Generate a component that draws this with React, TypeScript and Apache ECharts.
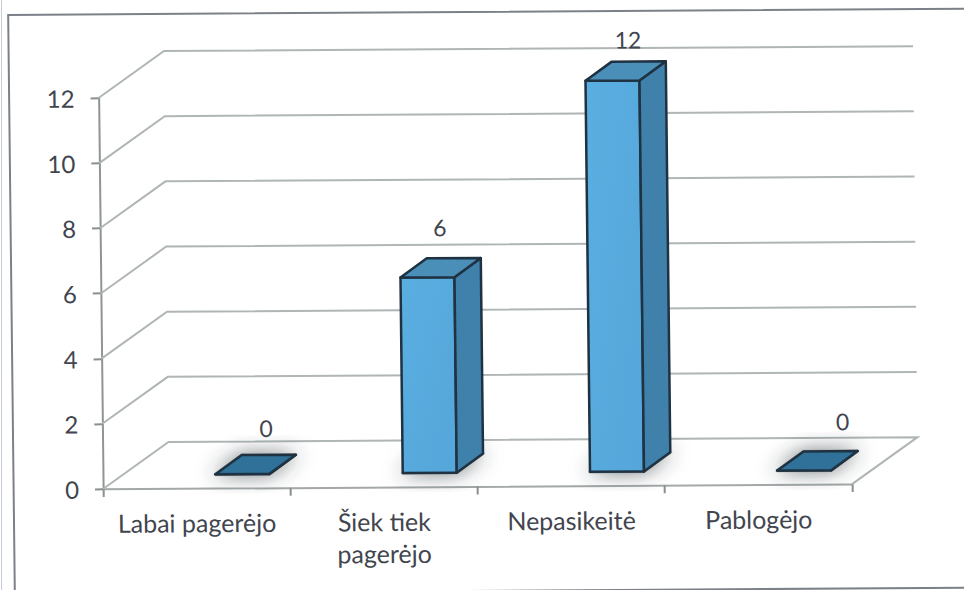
import React, { useEffect, useRef } from "react";
import * as echarts from "echarts";

const categories = ["Labai pagerėjo", "Šiek tiek\npagerėjo", "Nepasikeitė", "Pablogėjo"];
const values = [0, 6, 12, 0];
const yTicks = [2, 4, 6, 8, 10, 12];

const FONT = "Lato";
const TEXT = "#41454e";
const WALL = "#b0b5b5";
const WALL_DX = 66;
const WALL_DY = -46.5;
const BAR_SHIFT_X = 46;
const BAR_SHIFT_Y = -14;
const BAR_W = 54;
const DEPTH_X = 26.5;
const DEPTH_Y = -19;
const LABEL_OFFSETS = [[70, -60], [59, -64], [62, -55], [85, -63]];

function renderWall(params: any, api: any) {
  const cs = params.coordSys;
  const y = api.coord([0, api.value(0)])[1];
  return {
    type: "polyline",
    silent: true,
    shape: {
      points: [
        [cs.x, y],
        [cs.x + WALL_DX, y + WALL_DY],
        [cs.x + cs.width + WALL_DX, y + WALL_DY],
      ],
    },
    style: { fill: "none", stroke: WALL, lineWidth: 2 },
  };
}

function renderFloor(params: any, api: any) {
  const cs = params.coordSys;
  const y = api.coord([0, 0])[1];
  return {
    type: "polyline",
    silent: true,
    shape: {
      points: [
        [cs.x, y],
        [cs.x + WALL_DX, y + WALL_DY],
        [cs.x + cs.width + WALL_DX, y + WALL_DY],
        [cs.x + cs.width, y],
      ],
    },
    style: { fill: "none", stroke: WALL, lineWidth: 2 },
  };
}

function renderBar(params: any, api: any) {
  const i = api.value(0);
  const v = api.value(1);
  const top = api.coord([i, v]);
  const base = api.coord([i, 0]);
  const xl = top[0] + BAR_SHIFT_X - BAR_W / 2;
  const xr = xl + BAR_W;
  const yt = top[1] + BAR_SHIFT_Y;
  const yb = base[1] + BAR_SHIFT_Y;
  const stroke = "#1f3242";
  const poly = (points: number[][], fill: any, extra: any = {}) => ({
    type: "polygon",
    silent: true,
    shape: { points },
    style: { fill, stroke, lineWidth: 2.5, lineJoin: "round", ...extra },
  });
  const offset = LABEL_OFFSETS[params.dataIndex];
  return {
    type: "group",
    silent: true,
    children: [
      poly(
        [[xl, yb], [xr, yb], [xr + DEPTH_X, yb + DEPTH_Y], [xl + DEPTH_X, yb + DEPTH_Y]],
        "#8a8f92",
        { stroke: "#8a8f92", lineWidth: 3, shadowBlur: 20, shadowColor: "rgba(50,55,60,0.65)" }
      ),
      poly([[xl, yt], [xr, yt], [xr, yb], [xl, yb]], new echarts.graphic.LinearGradient(0, 0, 1, 1, [
        { offset: 0, color: "#5aaee0" },
        { offset: 1, color: "#55a6da" },
      ])),
      poly([[xr, yt], [xr + DEPTH_X, yt + DEPTH_Y], [xr + DEPTH_X, yb + DEPTH_Y], [xr, yb]], "#4081ac"),
      poly(
        [[xl, yt], [xr, yt], [xr + DEPTH_X, yt + DEPTH_Y], [xl + DEPTH_X, yt + DEPTH_Y]],
        v === 0 ? "#2f7199" : "#4a8fb8"
      ),
      {
        type: "text",
        silent: true,
        style: {
          text: String(v),
          x: top[0] + offset[0],
          y: top[1] + offset[1],
          textAlign: "center",
          textVerticalAlign: "middle",
          fill: TEXT,
          font: `23px ${FONT}`,
        },
      },
    ],
  };
}

export default function App() {
  const ref = useRef<HTMLDivElement>(null);
  useEffect(() => {
    const chart = echarts.init(ref.current!, null, { renderer: "svg" });
    chart.setOption({
      animation: false,
      backgroundColor: "#ffffff",
      textStyle: { fontFamily: FONT },
      grid: { left: 97.4, top: 98.6, width: 749, height: 391, containLabel: false },
      graphic: [
        {
          type: "rect",
          silent: true,
          z: -1,
          shape: { x: 8, y: 15, width: 1100, height: 579 },
          style: { fill: "none", stroke: "#7c8088", lineWidth: 2 },
        },
      ],
      xAxis: {
        type: "category",
        data: categories,
        boundaryGap: true,
        splitLine: { show: false },
        axisLine: { show: true, lineStyle: { color: "#a4a8a8", width: 2 } },
        axisTick: { show: true, length: 8, lineStyle: { color: "#8a8f90", width: 2 } },
        axisLabel: {
          color: TEXT,
          fontFamily: FONT,
          fontSize: 25,
          lineHeight: 32,
          margin: 18,
          interval: 0,
        },
      },
      yAxis: {
        type: "value",
        min: 0,
        max: 12,
        interval: 2,
        splitLine: { show: false },
        axisLine: { show: true, lineStyle: { color: "#8f9495", width: 2 } },
        axisTick: { show: true, length: 8, lineStyle: { color: "#8a8f90", width: 2 } },
        axisLabel: { color: TEXT, fontFamily: FONT, fontSize: 24, margin: 24 },
      },
      series: [
        {
          type: "custom",
          name: "wall",
          coordinateSystem: "cartesian2d",
          renderItem: renderWall,
          encode: { y: 0 },
          data: yTicks.map((t) => [t]),
          z: 1,
          silent: true,
        },
        {
          type: "custom",
          name: "floor",
          coordinateSystem: "cartesian2d",
          renderItem: renderFloor,
          data: [[0]],
          z: 1,
          silent: true,
        },
        {
          type: "custom",
          name: "bars",
          coordinateSystem: "cartesian2d",
          renderItem: renderBar,
          encode: { x: 0, y: 1 },
          data: values.map((v, i) => [i, v]),
          z: 3,
          silent: true,
        },
      ],
    });
    return () => chart.dispose();
  }, []);
  return (
    <div style={{ position: "fixed", left: 0, top: 0, width: 964, height: 590, overflow: "hidden", background: "#fff" }}>
      <div
        ref={ref}
        style={{
          width: 1120,
          height: 620,
          transformOrigin: "0 0",
          transform: "matrix(1,-0.0065,0.0115,1,0,0)",
        }}
      />
      <div style={{ position: "absolute", left: 1, top: 0, width: 1, height: 590, background: "#c9cad2" }} />
    </div>
  );
}
